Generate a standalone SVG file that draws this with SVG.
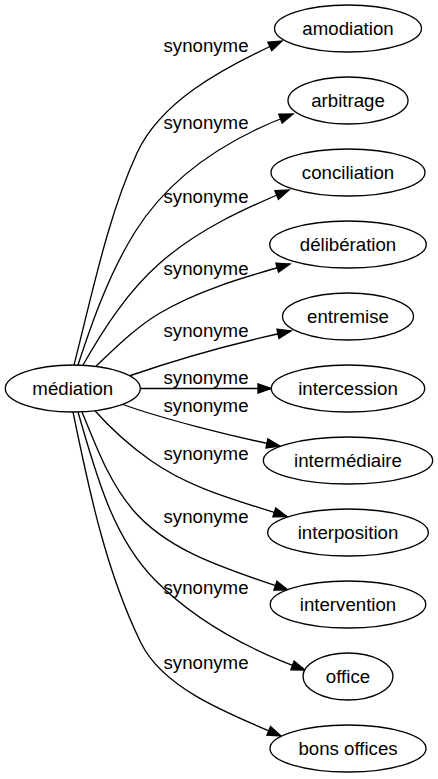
<svg xmlns="http://www.w3.org/2000/svg" width="438" height="779" viewBox="0 0 438 779">
<style>
text{font-family:"Liberation Sans",Arial,sans-serif;font-size:18.67px;fill:#000;text-anchor:middle}
.node ellipse{fill:#fff;stroke:#000;stroke-width:1.33}
.edge path{fill:none;stroke:#000;stroke-width:1.33;marker-end:url(#arrow)}
</style>
<defs>
<marker id="arrow" markerUnits="userSpaceOnUse" viewBox="0 0 13.33 9.33" refX="13.33" refY="4.67" markerWidth="13.33" markerHeight="9.33" orient="auto" overflow="visible">
<path d="M0,0 L13.33,4.67 L0,9.33 z" fill="#000" stroke="#000" stroke-width="1.33"/>
</marker>
</defs>
<rect width="438" height="779" fill="#fff"/>
<g id="connectors" class="edge">
<path d="M74,365 C91.5,297 107.6,216.7 137,153 C160.1,103 218.3,69.7 282,41"/>
<path d="M78,365 C92.9,319.4 109.6,272.8 135,232 C169.5,176.75 227.2,138.5 293,114"/>
<path d="M83,365 C104,328 127.75,291.4 160,263 C197.5,230 243,209 289,190"/>
<path d="M96,366 C116.4,347 135.9,327.3 160,313 C199.6,289.5 245.8,276.9 290,264"/>
<path d="M129,376 C175,360 235,343 291,331"/>
<path d="M140.3,388.5 L271.3,388.5"/>
<path d="M123,404.5 C160,418 230,436 280,446"/>
<path d="M95,410.7 C111.5,429.45 129.75,445.5 150,460 C190.5,489 239.5,501 287,516.5"/>
<path d="M82,412 C96.1,446 109,481.9 133,510 C170.7,554 233.5,570.9 288,590"/>
<path d="M78,412 C95.4,471.5 111.6,536 155,580 C195.6,621.2 250.5,650.3 305,670"/>
<path d="M73,412 C89,490 105.8,571 141,643 C163,688 225.8,712.6 281,736"/>
<text x="206" y="51.7">synonyme</text>
<text x="206" y="129">synonyme</text>
<text x="206" y="203.3">synonyme</text>
<text x="206" y="275">synonyme</text>
<text x="206" y="336.7">synonyme</text>
<text x="206" y="384">synonyme</text>
<text x="206" y="411.7">synonyme</text>
<text x="206" y="460">synonyme</text>
<text x="206" y="523.3">synonyme</text>
<text x="206" y="594">synonyme</text>
<text x="206" y="669">synonyme</text>
</g>
<g id="mediation" class="node"><ellipse cx="72.8" cy="388.5" rx="67.5" ry="23.5"/><text x="72.8" y="395">médiation</text></g>
<g id="amodiation" class="node"><ellipse cx="348" cy="28.5" rx="73.5" ry="23.5"/><text x="348" y="35">amodiation</text></g>
<g id="arbitrage" class="node"><ellipse cx="348" cy="100.5" rx="60" ry="23.5"/><text x="348" y="107">arbitrage</text></g>
<g id="conciliation" class="node"><ellipse cx="348" cy="172.5" rx="77" ry="23.5"/><text x="348" y="179">conciliation</text></g>
<g id="deliberation" class="node"><ellipse cx="348" cy="244.5" rx="78.3" ry="23.5"/><text x="348" y="251">délibération</text></g>
<g id="entremise" class="node"><ellipse cx="348" cy="316.5" rx="65.5" ry="23.5"/><text x="348" y="323">entremise</text></g>
<g id="intercession" class="node"><ellipse cx="348" cy="388.5" rx="76.7" ry="23.5"/><text x="348" y="395">intercession</text></g>
<g id="intermediaire" class="node"><ellipse cx="348" cy="460.5" rx="84.7" ry="23.5"/><text x="348" y="467">intermédiaire</text></g>
<g id="interposition" class="node"><ellipse cx="348" cy="532.5" rx="80.3" ry="23.5"/><text x="348" y="539">interposition</text></g>
<g id="intervention" class="node"><ellipse cx="348" cy="604.5" rx="77.8" ry="23.5"/><text x="348" y="611">intervention</text></g>
<g id="office" class="node"><ellipse cx="348" cy="676.5" rx="45" ry="23.5"/><text x="348" y="683">office</text></g>
<g id="bons-offices" class="node"><ellipse cx="348" cy="748.5" rx="78" ry="23.5"/><text x="348" y="755">bons offices</text></g>
</svg>
